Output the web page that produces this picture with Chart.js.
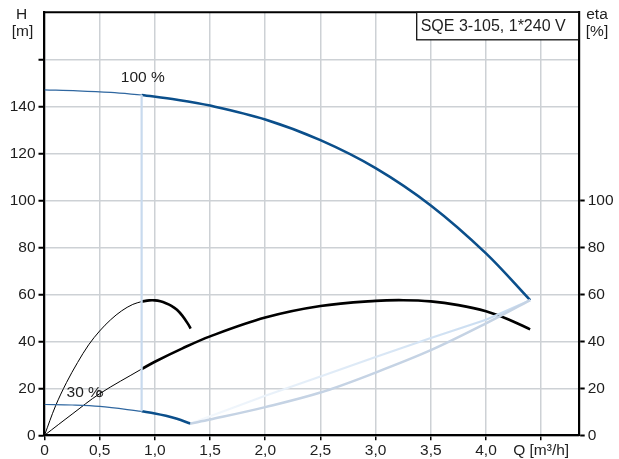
<!DOCTYPE html>
<html><head><meta charset="utf-8">
<script src="https://cdn.jsdelivr.net/npm/chart.js@4/dist/chart.umd.min.js"></script>
<style>html,body{margin:0;padding:0;background:#fff}canvas{display:block}</style>
</head><body>
<canvas id="c" width="619" height="459"></canvas>
<script>
// ---- data ----
const TITLE = 'SQE 3-105, 1*240 V';
const X_TICK_LABELS = ['0','0,5','1,0','1,5','2,0','2,5','3,0','3,5','4,0','Q [m³/h]'];
const LEFT_TITLE = ['H','[m]'];
const RIGHT_TITLE = ['eta','[%]'];

// 100 % head curve
const Q_H100_THIN  = [0, 0.3, 0.6, 0.88];
const H100_THIN    = [147, 146.6, 145.9, 144.8];
const Q_H100_THICK = [0.88, 1.2, 1.5, 2.0, 2.5, 3.0, 3.5, 4.0, 4.4];
const H100_THICK   = [144.8, 142.8, 140.3, 134.4, 125.6, 113.7, 97.8, 77.4, 57.5];

// 30 % head curve
const Q_H30_THIN  = [0, 0.25, 0.5, 0.88];
const H30_THIN    = [13.1, 12.9, 12.3, 10.2];
const Q_H30_THICK = [0.88, 1.0, 1.1, 1.2, 1.324];
const H30_THICK   = [10.2, 9.3, 8.3, 7.0, 5.0];

// efficiency at 100 %
const Q_E100_THIN  = [0, 0.25, 0.5, 0.88];
const E100_THIN    = [0, 9, 17.7, 28.2];
const Q_E100_THICK = [0.88, 1.0, 1.25, 1.5, 2.0, 2.5, 3.0, 3.25, 3.5, 3.75, 4.0, 4.2, 4.4];
const E100_THICK   = [28.2, 31.3, 37.0, 42.1, 50.1, 55.0, 57.2, 57.5, 57.0, 55.4, 52.8, 49.4, 45.1];

// efficiency at 30 %
const Q_E30_THIN  = [0, 0.1, 0.2, 0.3, 0.4, 0.5, 0.6, 0.7, 0.8, 0.88];
const E30_THIN    = [0, 12.5, 22.5, 31, 38.5, 44.4, 49.2, 53, 55.7, 56.9];
const Q_E30_THICK = [0.88, 0.95, 1.0, 1.05, 1.1, 1.15, 1.2, 1.25, 1.3, 1.324];
const E30_THICK   = [56.9, 57.4, 57.4, 57.0, 56.2, 55.1, 53.4, 50.8, 47.4, 45.4];

// system / limit curves
const Q_SYS_LOW = [1.324, 1.5, 2.0, 2.5, 3.0, 3.5, 4.0, 4.4];
const H_SYS_LOW = [5.0, 6.7, 12.0, 18.2, 26.7, 36.2, 47.6, 57.5];
const Q_SYS_UP  = [1.324, 2.0, 2.5, 3.0, 3.5, 4.0, 4.4];
const H_SYS_UP  = [5.0, 16.8, 25.0, 33.3, 41.4, 49.2, 57.5];

// duty point vertical and marker
const Q_DUTY = [0.88, 0.88];
const H_DUTY = [144.8, 10.2];
const MARK_Q = [0.5];
const MARK_E = [17.7];

// curve labels (data coordinates)
const LABELS = [
  {text: '100 %', q: 0.89, v: 152},
  {text: '30 %',  q: 0.36,  v: 18.3}
];

const X_MAX = 4.84, Y_MAX = 180;

// ---- build ----
const zip = (xs, ys) => xs.map((x, i) => ({x, y: ys[i]}));
const BLUE = '#0b4f8b', BLUE_THIN = '#2f67a0';

function line(data, color, width, extra) {
  return Object.assign({data, borderColor: color, borderWidth: width, pointRadius: 0,
    fill: false, tension: 0.35, yAxisID: 'y'}, extra || {});
}

const upGradient = (ctx) => {
  const ch = ctx.chart;
  if (!ch.chartArea) return '#cfe0f2';
  const xs = ch.scales.x;
  const g = ch.ctx.createLinearGradient(xs.getPixelForValue(Q_SYS_UP[0]), 0,
                                        xs.getPixelForValue(Q_SYS_UP[Q_SYS_UP.length-1]), 0);
  g.addColorStop(0, '#f5f9fd');
  g.addColorStop(1, '#c4d9ef');
  return g;
};

const datasets = [
  line(zip(Q_DUTY, H_DUTY), '#c8daee', 2.2, {tension: 0}),
  line(zip(Q_SYS_LOW, H_SYS_LOW), '#c5d3e4', 2.5),
  line(zip(Q_SYS_UP, H_SYS_UP), upGradient, 2.2, {tension: 0}),
  line(zip(Q_H100_THIN, H100_THIN), BLUE_THIN, 1.2),
  line(zip(Q_H100_THICK, H100_THICK), BLUE, 2.6),
  line(zip(Q_H30_THIN, H30_THIN), BLUE_THIN, 1.2),
  line(zip(Q_H30_THICK, H30_THICK), BLUE, 2.6),
  line(zip(Q_E100_THIN, E100_THIN), '#000', 1),
  line(zip(Q_E100_THICK, E100_THICK), '#000', 2.6),
  line(zip(Q_E30_THIN, E30_THIN), '#000', 1),
  line(zip(Q_E30_THICK, E30_THICK), '#000', 2.6),
  {data: zip(MARK_Q, MARK_E), showLine: false, pointRadius: 3, pointBorderWidth: 1,
   pointBorderColor: '#222', pointBackgroundColor: 'rgba(0,0,0,0)', yAxisID: 'y'}
];

const TEXT = '#1e1e1e';
const FONT = '"Liberation Sans", Arial, sans-serif';
Chart.defaults.font.family = FONT;
Chart.defaults.font.size = 15.5;
Chart.defaults.color = TEXT;

const deco = {
  id: 'deco',
  afterDraw(chart) {
    const {ctx, chartArea: a, scales} = chart;
    ctx.save();
    // frame
    ctx.strokeStyle = '#000'; ctx.lineWidth = 2;
    ctx.beginPath(); ctx.moveTo(a.left - 1, a.top); ctx.lineTo(a.right + 1, a.top); ctx.stroke();
    // curve labels
    ctx.fillStyle = TEXT; ctx.font = '15.5px ' + FONT;
    ctx.textAlign = 'center'; ctx.textBaseline = 'middle';
    LABELS.forEach(l => ctx.fillText(l.text, scales.x.getPixelForValue(l.q), scales.y.getPixelForValue(l.v)));
    // axis titles
    ctx.fillText(LEFT_TITLE[0], 21.5, 15);
    ctx.fillText(LEFT_TITLE[1], 22.5, 32);
    ctx.fillText(RIGHT_TITLE[0], 597, 15);
    ctx.fillText(RIGHT_TITLE[1], 597, 32);
    // title box
    const bw = 162, bh = 27.5, bx = a.right - bw, by = a.top;
    ctx.fillStyle = '#fff'; ctx.fillRect(bx, by, bw, bh);
    ctx.strokeStyle = '#111'; ctx.lineWidth = 1.3;
    ctx.strokeRect(bx, by, bw, bh);
    ctx.fillStyle = TEXT; ctx.textAlign = 'left'; ctx.font = '16px ' + FONT;
    ctx.fillText(TITLE, bx + 4, by + bh / 2 + 1);
    ctx.restore();
  }
};

new Chart(document.getElementById('c'), {
  type: 'line',
  data: {datasets},
  options: {
    responsive: false, animation: false, devicePixelRatio: 1,
    layout: {padding: {top: 8}},
    plugins: {legend: {display: false}, tooltip: {enabled: false}},
    scales: {
      x: {
        type: 'linear', min: 0, max: X_MAX,
        afterFit: s => { s.height = 23.7; },
        grid: {color: '#cdd1d5', lineWidth: 1.5, tickColor: '#000', tickLength: 5, tickWidth: 1.5},
        border: {color: '#000', width: 2.2},
        ticks: {stepSize: 0.5, includeBounds: false, padding: 1, maxRotation: 0, autoSkip: false,
                callback: v => X_TICK_LABELS[Math.round(v / 0.5)] ?? ''}
      },
      y: {
        type: 'linear', position: 'left', min: 0, max: Y_MAX,
        afterFit: s => { s.width = 44.5; },
        afterBuildTicks: s => { s.ticks = s.ticks.filter(t => t.value <= 160); },
        grid: {color: '#cdd1d5', lineWidth: 1.5, tickColor: '#000', tickLength: 6, tickWidth: 2},
        border: {color: '#000', width: 2.2},
        ticks: {stepSize: 20, padding: 3, callback: v => v <= 140 ? String(v) : ''}
      },
      y2: {
        type: 'linear', position: 'right', min: 0, max: Y_MAX,
        afterFit: s => { s.width = 40.3; },
        afterBuildTicks: s => { s.ticks = s.ticks.filter(t => t.value <= 100); },
        grid: {drawOnChartArea: false, tickColor: '#000', tickLength: 6, tickWidth: 2},
        border: {color: '#000', width: 2.2},
        ticks: {stepSize: 20, padding: 3, callback: v => String(v)}
      }
    }
  },
  plugins: [deco]
});
</script>
</body></html>
